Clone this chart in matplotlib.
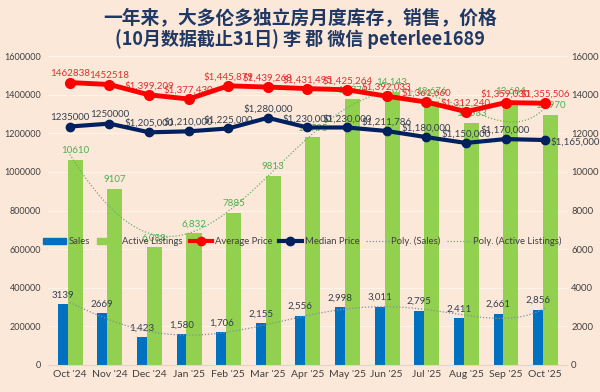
import matplotlib
matplotlib.use("Agg")
import matplotlib.pyplot as plt
import numpy as np
from matplotlib.lines import Line2D
from matplotlib.patches import Patch
from matplotlib.ticker import FuncFormatter

months = ["Oct '24", "Nov '24", "Dec '24", "Jan '25", "Feb '25", "Mar '25", "Apr '25",
          "May '25", "Jun '25", "Jul '25", "Aug '25", "Sep '25", "Oct '25"]
sales = [3139, 2669, 1423, 1580, 1706, 2155, 2556, 2998, 3011, 2795, 2411, 2661, 2856]
listings = [10610, 9107, 6088, 6832, 7885, 9813, 11795, 13770, 14143, 13676, 12533, 13684, 12970]
avg_price = [1462838, 1452518, 1399209, 1377430, 1445879, 1439268, 1431495, 1425264,
             1392033, 1361660, 1312240, 1359030, 1355506]
median_price = [1235000, 1250000, 1205000, 1210000, 1225000, 1280000, 1230000, 1230000,
                1211786, 1180000, 1150000, 1170000, 1165000]

sales_lbl = ["3139", "2669", "1,423", "1,580", "1,706", "2,155", "2,556", "2,998", "3,011",
             "2,795", "2,411", "2,661", "2,856"]
list_lbl = ["10610", "9107", "6,088", "6,832", "7885", "9813", "11,795", "13,770", "14,143",
            "13,676", "12,533", "13,684", "12,970"]
avg_lbl = ["1462838", "1452518"] + ["${:,}".format(v) for v in avg_price[2:]]
med_lbl = ["1235000", "1250000"] + ["${:,}".format(v) for v in median_price[2:]]

BG = "#FCE8D9"
BLUE = "#0070C0"
GREEN = "#92D050"
RED = "#FF0000"
NAVY = "#002060"
TXT = "#404040"

plt.rcParams['font.family'] = ['Lato', 'DejaVu Sans']

fig = plt.figure(figsize=(6, 3.92), dpi=100, facecolor=BG)
ax = fig.add_axes([0.08, 0.069, 0.865, 0.788])
ax2 = ax.twinx()
ax.set_zorder(ax2.get_zorder() + 1)
ax.patch.set_visible(False)
ax2.set_facecolor(BG)

x = np.arange(len(months))
ws, wl = 0.25, 0.38

# bars on the right axis
ax2.bar(x - 0.18, sales, ws, color=BLUE, zorder=2)
ax2.bar(x + 0.135, listings, wl, color=GREEN, zorder=2)
for i in x:
    ax2.text(i - 0.18, sales[i] + 250, sales_lbl[i], ha="center", va="bottom",
             fontsize=7, color="#333F50")
    ax2.text(i + 0.135, listings[i] + 250, list_lbl[i], ha="center", va="bottom",
             fontsize=7, color="#4CAF50")

# polynomial trendlines
xs = np.linspace(0, len(months) - 1, 200)
ps = np.polyfit(x, sales, 5)
pl = np.polyfit(x, listings, 5)
ax2.plot(xs, np.polyval(ps, xs), ls=(0, (1, 1.5)), lw=0.9, color="#7F8FA6", zorder=3)
ax2.plot(xs, np.polyval(pl, xs), ls=(0, (1, 1.5)), lw=0.9, color="#6AAF6A", zorder=3)

ax2.set_ylim(0, 16000)
ax2.set_yticks(range(0, 16001, 2000))
ax2.tick_params(axis="y", length=0, labelsize=6.8, labelcolor=TXT, pad=3)

# price lines on the left axis
ax.plot(x, avg_price, color=RED, lw=3.5, marker="o", ms=7, zorder=5)
ax.plot(x, median_price, color=NAVY, lw=3, marker="o", ms=6, zorder=5)
for i in x:
    ax.text(i, avg_price[i] + 22000, avg_lbl[i], ha="center", va="bottom",
            fontsize=7, color="#E03030")
    if i == len(months) - 1:
        ax.text(i + 0.13, median_price[i] - 8000, med_lbl[i], ha="left", va="center",
                fontsize=7, color="#333F50")
    else:
        ax.text(i, median_price[i] + 22000, med_lbl[i], ha="center", va="bottom",
                fontsize=7, color="#333F50")

ax.set_ylim(0, 1600000)
ax.set_yticks(range(0, 1600001, 200000))
ax.yaxis.set_major_formatter(FuncFormatter(lambda v, p: "%d" % v))
ax.set_xlim(-0.55, len(months) - 0.45)
ax.set_xticks(x)
ax.set_xticklabels(months)
ax.tick_params(axis="x", length=0, labelsize=7.5, labelcolor=TXT)
ax.tick_params(axis="y", length=0, labelsize=6.5, labelcolor=TXT, pad=5)
ax2.grid(axis="y", color="#FFF3EA", lw=0.8, zorder=0)
for a in (ax, ax2):
    for s in a.spines.values():
        s.set_visible(False)
ax2.spines["bottom"].set_visible(True)
ax2.spines["bottom"].set_color("#E6D3C5")

handles = [
    Patch(color=BLUE),
    Patch(color=GREEN),
    Line2D([], [], color=RED, lw=3, marker="o", ms=6),
    Line2D([], [], color=NAVY, lw=3, marker="o", ms=6),
    Line2D([], [], color="#7F8FA6", lw=0.9, ls=(0, (1, 1.5))),
    Line2D([], [], color="#6AAF6A", lw=0.9, ls=(0, (1, 1.5))),
]
labels = ["Sales", "Active Listings", "Average Price", "Median Price",
          "Poly. (Sales)", "Poly. (Active Listings)"]
ax.legend(handles, labels, loc="center", bbox_to_anchor=(0.49, 0.40), ncol=6,
          frameon=False, fontsize=6.8, handlelength=2.4, handletextpad=0.3,
          columnspacing=0.7, labelcolor=TXT)

fig.text(0.5, 0.955, "一年来，大多伦多独立房月度库存，销售，价格", ha="center", va="center",
         fontsize=13.5, color="#1F3864", fontweight="bold",
         family=["Noto Sans CJK SC", "DejaVu Sans"])
fig.text(0.5, 0.9, "(10月数据截止31日) 李 郡 微信 peterlee1689", ha="center", va="center",
         fontsize=13, color="#1F3864", fontweight="bold",
         family=["Noto Sans CJK SC", "DejaVu Sans"])

fig.savefig("out.png", dpi=100, facecolor=BG)
